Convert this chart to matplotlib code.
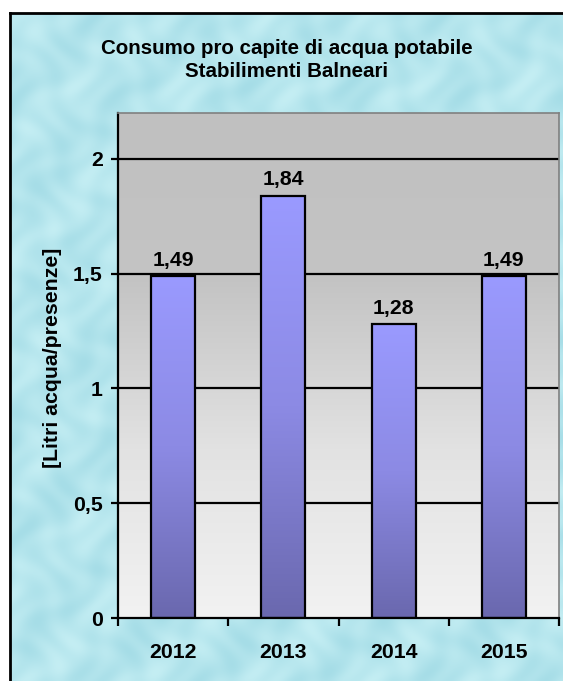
import numpy as np
import matplotlib
matplotlib.use("Agg")
import matplotlib.pyplot as plt
from matplotlib.colors import LinearSegmentedColormap
from matplotlib.lines import Line2D

plt.rcParams['font.family'] = ['Liberation Sans', 'DejaVu Sans']

# ---- data ----
years = ["2012", "2013", "2014", "2015"]
values = [1.49, 1.84, 1.28, 1.49]
value_labels = ["1,49", "1,84", "1,28", "1,49"]
yticks = [0, 0.5, 1, 1.5, 2]
ytick_labels = ["0", "0,5", "1", "1,5", "2"]
title_text = "Consumo pro capite di acqua potabile\nStabilimenti Balneari"
ylabel_text = "[Litri acqua/presenze]"

W, H = 563, 681
FS = 15.3
fig = plt.figure(figsize=(W / 100, H / 100), dpi=100)
fig.patch.set_facecolor("white")

# ---- background water-like texture (decorative) ----
bg_ax = fig.add_axes([10 / W, 0, (W - 10) / W, (H - 13) / H], zorder=-10)
bg_ax.set_axis_off()
yy, xx = np.mgrid[0:340, 0:280]
tex = (np.sin(xx / 4.0 + np.sin(yy / 6.0) * 1.5) * np.cos(yy / 5.0 + np.sin(xx / 7.0) * 1.2)
       + 0.6 * np.sin((xx + yy) / 9.0))
tex = (tex - tex.min()) / (tex.max() - tex.min())
base = np.array([0.71, 0.90, 0.93])
light = np.array([0.82, 0.96, 0.97])
dark = np.array([0.62, 0.85, 0.89])
img = base + (tex[..., None] - 0.5) * (light - dark) * 0.6
bg_ax.imshow(np.clip(img, 0, 1), aspect="auto", extent=[0, 1, 0, 1], interpolation="bicubic")
# frame border (left and top visible)
fig.lines.append(Line2D([10 / W, 10 / W], [0, 1 - 13 / H], transform=fig.transFigure,
                        color="black", linewidth=2, zorder=5))
fig.lines.append(Line2D([10 / W, 1], [1 - 13 / H, 1 - 13 / H], transform=fig.transFigure,
                        color="black", linewidth=2, zorder=5))

# ---- main axes ----
ax = fig.add_axes([118 / W, (H - 618) / H, (559 - 118) / W, (618 - 113) / H])
ax.set_facecolor("none")
ax.set_xlim(-0.5, len(years) - 0.5)
ax.set_ylim(0, 2.2)

# plot area gradient
grad = np.linspace(0, 1, 256)[:, None]
cm_bg = LinearSegmentedColormap.from_list("bg", ["#c0c0c0", "#c4c4c4", "#e2e2e2", "#f2f2f2"])
ax.imshow(grad, cmap=cm_bg, aspect="auto", extent=[0, 1, 0, 1], transform=ax.transAxes,
          zorder=0, origin="upper")

# gridlines
for t in yticks[1:]:
    ax.axhline(t, color="black", linewidth=1.6, zorder=1)

# bars
x = np.arange(len(years))
bars = ax.bar(x, values, width=0.4, color="none", edgecolor="black", linewidth=1.6, zorder=3)
cm_bar = LinearSegmentedColormap.from_list("bar", ["#9a9aff", "#8c8ae4", "#6a68ae"])
for b in bars:
    x0, y0 = b.get_x(), b.get_y()
    w, h = b.get_width(), b.get_height()
    im = ax.imshow(grad, cmap=cm_bar, aspect="auto", extent=[x0, x0 + w, y0, y0 + h],
                   zorder=2, origin="upper")
    im.set_clip_path(b)

for xi, v, lab in zip(x, values, value_labels):
    ax.annotate(lab, (xi, v), xytext=(0, 4.5), textcoords="offset points",
                ha="center", va="bottom", fontsize=FS, fontweight="bold")

# axes styling
ax.spines["left"].set_linewidth(1.6)
ax.spines["bottom"].set_linewidth(1.6)
ax.spines["top"].set_color("#808080")
ax.spines["right"].set_color("#808080")
ax.spines["top"].set_linewidth(1.2)
ax.spines["right"].set_linewidth(1.2)

ax.set_yticks(yticks)
ax.set_yticklabels(ytick_labels, fontsize=FS, fontweight="bold")
ax.tick_params(axis="y", length=5, width=1.6, pad=6, direction="out")

ax.set_xticks(np.arange(-0.5, len(years)), minor=False)
ax.set_xticklabels([])
ax.set_xticks(x, minor=True)
ax.set_xticklabels(years, minor=True, fontsize=FS, fontweight="bold")
ax.tick_params(axis="x", which="major", length=6, width=1.6, direction="out")
ax.tick_params(axis="x", which="minor", length=0, pad=18)

# title and y label
fig.text(287 / W, 1 - 60 / H, title_text, ha="center", va="center", fontsize=14.8,
         fontweight="bold", linespacing=1.25)
fig.text(53 / W, 1 - 358 / H, ylabel_text, ha="center", va="center", rotation=90,
         fontsize=FS, fontweight="bold")

fig.savefig("out.png", dpi=100)
